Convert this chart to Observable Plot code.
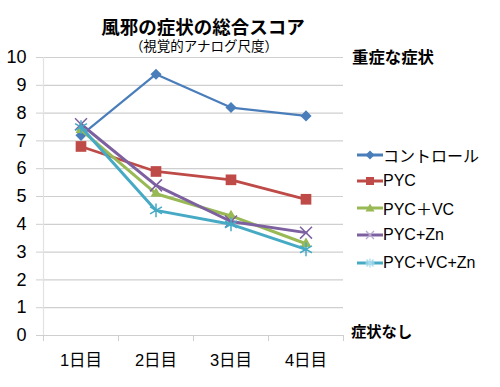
<!DOCTYPE html>
<html><head><meta charset="utf-8">
<script src="https://cdn.jsdelivr.net/npm/d3@7"></script>
<script src="https://cdn.jsdelivr.net/npm/@observablehq/plot@0.6"></script>
<style>
body{margin:0;background:#fff;}
#wrap{position:relative;width:500px;height:387px;font-family:"Liberation Sans",Arial,"Noto Sans CJK JP",sans-serif;color:#000;}
#wrap svg.plot{position:absolute;left:0;top:0;}
.lbl{position:absolute;white-space:nowrap;line-height:1;}
.leg{position:absolute;left:357px;display:flex;align-items:center;font-size:16px;white-space:nowrap;}
</style></head>
<body><div id="wrap"></div>
<script>
const days = ["1日目","2日目","3日目","4日目"];
const seriesNames = ["コントロール","PYC","PYC＋VC","PYC+Zn","PYC+VC+Zn"];
const control = [7.2, 9.4, 8.2, 7.9];
const pyc = [6.8, 5.9, 5.6, 4.9];
const pycVc = [7.4, 5.1, 4.3, 3.3];
const pycZn = [7.6, 5.4, 4.1, 3.7];
const pycVcZn = [7.5, 4.5, 4.0, 3.1];
const yTicks = [0,1,2,3,4,5,6,7,8,9,10];
const colors = ["#4a7ebb","#be4b48","#98b954","#7d60a0","#46aac5"];
const symbols = ["diamond2","square2","triangle2","times","asterisk"];
const radii = [5, 6.8, 5.2, 5.5, 6.5];
const widths = [2.2, 2.8, 3, 3, 3];

const allSeries = [control, pyc, pycVc, pycZn, pycVcZn];
const rows = [];
allSeries.forEach((vals, s) => vals.forEach((v, i) => rows.push({s, day: i + 1, v})));

const marks = [
  Plot.gridY(yTicks, {stroke: "#cfcfcf", strokeOpacity: 1, strokeWidth: 1.2}),
  Plot.ruleX([0.5], {stroke: "#e2e2e2", strokeWidth: 1.2}),
  Plot.axisY({ticks: yTicks, tickSize: 7, tickPadding: 10, fontSize: 18, stroke: "#cfcfcf", label: null, tickFormat: d => String(d)}),
  Plot.axisX({ticks: [0.5,1.5,2.5,3.5,4.5], tickSize: 6, tickFormat: () => "", stroke: "#cfcfcf", label: null}),
  Plot.axisX({ticks: [1,2,3,4], tickSize: 0, tickPadding: 19, fontSize: 16.5, tickFormat: d => days[d - 1], label: null})
];
allSeries.forEach((vals, s) => {
  const data = rows.filter(r => r.s === s);
  marks.push(Plot.line(data, {x: "day", y: "v", stroke: colors[s], strokeWidth: widths[s]}));
  const filled = s < 3;
  marks.push(Plot.dot(data, {x: "day", y: "v", symbol: () => symbols[s], r: radii[s],
    fill: filled ? colors[s] : "none", stroke: colors[s], strokeWidth: filled ? 0 : 1.5}));
});

const chart = Plot.plot({
  width: 500, height: 387,
  marginTop: 57, marginBottom: 52, marginLeft: 43, marginRight: 157,
  style: {fontFamily: '"Liberation Sans",Arial,"Noto Sans CJK JP",sans-serif', color: "#000", background: "transparent"},
  x: {type: "linear", domain: [0.5, 4.5]},
  y: {domain: [0, 10]},
  symbol: {type: "identity"},
  marks
});
chart.classList.add("plot");
const wrap = document.getElementById("wrap");
wrap.appendChild(chart);

function addLabel(text, x, y, size, weight, center) {
  const d = document.createElement("div");
  d.className = "lbl";
  d.textContent = text;
  d.style.fontSize = size + "px";
  d.style.fontWeight = weight;
  d.style.top = (y - size / 2) + "px";
  if (center) { d.style.left = (x - 150) + "px"; d.style.width = "300px"; d.style.textAlign = "center"; }
  else d.style.left = x + "px";
  wrap.appendChild(d);
}
addLabel("風邪の症状の総合スコア", 203, 28, 18.5, "bold", true);
addLabel("（視覚的アナログ尺度）", 204, 47, 13.5, "normal", true);
addLabel("重症な症状", 352, 57, 16.4, "bold", false);
addLabel("症状なし", 351, 332, 15.3, "bold", false);

const legY = [155, 181, 208, 235, 263];
const symPath = {
  diamond2: "M0,-4.5L4.5,0L0,4.5L-4.5,0Z",
  square2: "M-4,-4H4V4H-4Z",
  triangle2: "M0,-4.5L4.5,3.5H-4.5Z",
  times: "M-4,-4L4,4M4,-4L-4,4",
  asterisk: "M-4.5,0H4.5M0,-4.5V4.5M-3.5,-3.5L3.5,3.5M3.5,-3.5L-3.5,3.5"
};
seriesNames.forEach((name, s) => {
  const d = document.createElement("div");
  d.className = "leg";
  d.style.top = (legY[s] - 10) + "px";
  d.style.height = "20px";
  const filled = s < 3;
  d.innerHTML = `<svg width="26" height="20" style="margin-right:0px"><line x1="0" x2="26" y1="10" y2="10" stroke="${colors[s]}" stroke-width="3"/>` +
    `<path transform="translate(13,10)" d="${symPath[symbols[s]]}" fill="${filled ? colors[s] : 'none'}" stroke="${filled ? 'none' : (s===3?'#b9a9d0':'#a6dced')}" stroke-width="1.3"/></svg><span>${name}</span>`;
  wrap.appendChild(d);
});
</script></body></html>
